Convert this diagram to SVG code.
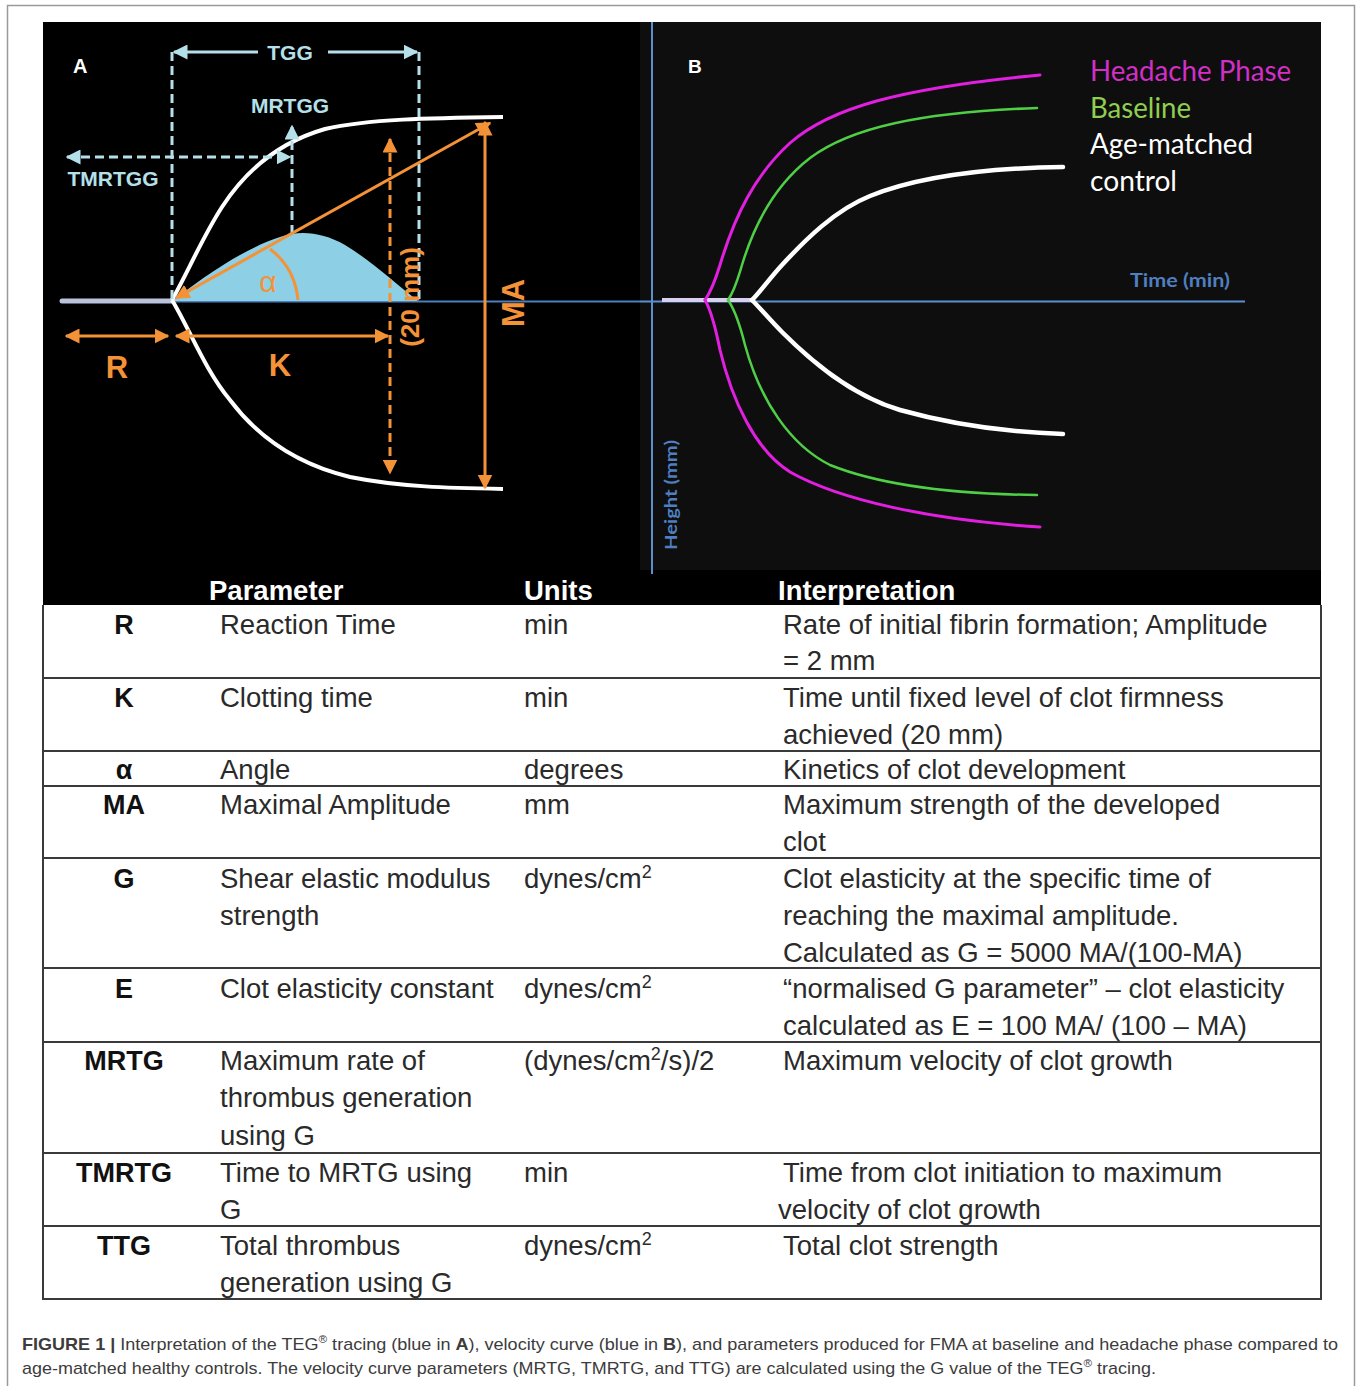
<svg xmlns="http://www.w3.org/2000/svg" width="1358" height="1386" viewBox="0 0 1358 1386">
<defs>
<style>
.or{stroke:#f39237;fill:none;stroke-width:3}
.cy{stroke:#b5e0ea;fill:none;stroke-width:3}
.dash{stroke-dasharray:9,5}
.lblA{font-family:"Liberation Sans",Arial,sans-serif;font-weight:bold;fill:#b5e0ea;font-size:21px}
.orT{font-family:"Liberation Sans",Arial,sans-serif;font-weight:bold;fill:#f39237}
.td{font-family:"Liberation Sans",Arial,sans-serif;font-size:27.5px;fill:#2a2a2a}
.ts{font-family:"Liberation Sans",Arial,sans-serif;font-size:27px;font-weight:bold;fill:#111;text-anchor:middle}
.th{font-family:"Liberation Sans",Arial,sans-serif;font-size:27.5px;font-weight:bold;fill:#fff}
.rl{stroke:#3a3a3a;stroke-width:2;fill:none}
.cap{font-family:"Liberation Sans",Arial,sans-serif;font-size:17px;fill:#3c3c3c}
.leg{font-family:Lato,"Open Sans",sans-serif;font-size:28px}
.sup{font-size:18px}
</style>
<marker id="ao" viewBox="0 0 10 10" refX="9" refY="5" markerWidth="5" markerHeight="5" orient="auto-start-reverse" markerUnits="strokeWidth">
<path d="M0,0 L10,5 L0,10 Z" fill="#f39237"/>
</marker>
<marker id="ac" viewBox="0 0 10 10" refX="9" refY="5" markerWidth="5" markerHeight="5" orient="auto-start-reverse" markerUnits="strokeWidth">
<path d="M0,0 L10,5 L0,10 Z" fill="#b5e0ea"/>
</marker>
</defs>
<rect width="1358" height="1386" fill="#fff"/>
<path d="M7.5,1386 V5.5 H1354.5 V1386" fill="none" stroke="#9a9a9a" stroke-width="1.5"/>

<g id="panelA">
<rect x="43" y="22" width="597" height="560" fill="#000"/>
<text x="73" y="73" font-family="Liberation Sans,Arial,sans-serif" font-weight="bold" font-size="20" fill="#fff">A</text>
<line x1="62" y1="301" x2="172" y2="301" stroke="#b9c3dc" stroke-width="5" stroke-linecap="round"/>
<line x1="172" y1="301.5" x2="640" y2="301.5" stroke="#4a7fc0" stroke-width="2"/>
<path d="M172,301 C200,280 240,250 280,237 C300,230 322,232 345,245 C370,260 395,283 418,301 Z" fill="#8dd0e6"/>
<path d="M172,300 C188,272 202,238 222,207 C246,170 280,142 325,129 C368,119 430,118 503,117" fill="none" stroke="#fff" stroke-width="4"/>
<path d="M172,300 C190,330 205,370 230,400 C260,440 300,465 350,477 C400,487 450,488 503,489" fill="none" stroke="#fff" stroke-width="4"/>
<g id="tealMarks">
<line class="cy dash" x1="172" y1="52" x2="172" y2="300"/>
<line class="cy dash" x1="419" y1="52" x2="419" y2="300"/>
<line class="cy" x1="258" y1="52" x2="174" y2="52" marker-end="url(#ac)"/>
<line class="cy" x1="328" y1="52" x2="417" y2="52" marker-end="url(#ac)"/>
<line class="cy dash" x1="292" y1="234" x2="292" y2="126" marker-end="url(#ac)"/>
<line class="cy dash" x1="67" y1="157" x2="290" y2="157" marker-start="url(#ac)" marker-end="url(#ac)"/>
<text class="lblA" x="290" y="60" text-anchor="middle">TGG</text>
<text class="lblA" x="290" y="113" text-anchor="middle">MRTGG</text>
<text class="lblA" x="113" y="186" text-anchor="middle">TMRTGG</text>
</g>
<g id="orangeMarks">
<line class="or" x1="176" y1="298" x2="490" y2="123" marker-start="url(#ao)" marker-end="url(#ao)"/>
<path class="or" d="M270,249 Q295,268 298,300"/>
<text x="268" y="292" text-anchor="middle" font-family="Liberation Sans,Arial,sans-serif" font-size="30" fill="#f39237">α</text>
<line class="or" x1="66" y1="336" x2="168" y2="336" marker-start="url(#ao)" marker-end="url(#ao)"/>
<line class="or" x1="176" y1="336" x2="388" y2="336" marker-start="url(#ao)" marker-end="url(#ao)"/>
<line class="or dash" x1="390" y1="139" x2="390" y2="473" marker-start="url(#ao)" marker-end="url(#ao)"/>
<line class="or" x1="485" y1="122" x2="485" y2="488" marker-start="url(#ao)" marker-end="url(#ao)"/>
<text class="orT" x="117" y="378" text-anchor="middle" font-size="31">R</text>
<text class="orT" x="280" y="376" text-anchor="middle" font-size="31">K</text>
<text class="orT" transform="translate(419,297) rotate(-90)" text-anchor="middle" font-size="26">(20 mm)</text>
<text class="orT" transform="translate(524,303) rotate(-90)" text-anchor="middle" font-size="31">MA</text>
</g>
</g>

<g id="panelB">
<rect x="640" y="22" width="681" height="560" fill="#0e0e0e"/>
<line x1="652" y1="22" x2="652" y2="572" stroke="#5b8fd0" stroke-width="2"/>
<line x1="640" y1="301.5" x2="1245" y2="301.5" stroke="#5b8fd0" stroke-width="2"/>
<line x1="662" y1="300" x2="752" y2="300" stroke="#d9d0f0" stroke-width="4"/>
<text x="688" y="73" font-family="Liberation Sans,Arial,sans-serif" font-weight="bold" font-size="19" fill="#fff">B</text>
<text class="leg" x="1090" y="81" fill="#d12fc6" textLength="201" lengthAdjust="spacingAndGlyphs">Headache Phase</text>
<text class="leg" x="1090" y="118" fill="#8fcf50" textLength="101" lengthAdjust="spacingAndGlyphs">Baseline</text>
<text class="leg" x="1090" y="154" fill="#fff" textLength="163" lengthAdjust="spacingAndGlyphs">Age-matched</text>
<text class="leg" x="1090" y="191" fill="#fff" textLength="87" lengthAdjust="spacingAndGlyphs">control</text>
<text x="1130" y="287" font-family="Lato,'Open Sans',sans-serif" font-weight="bold" font-size="19" fill="#4f7fc0" textLength="100" lengthAdjust="spacingAndGlyphs">Time (min)</text>
<text transform="translate(677,550) rotate(-90)" font-family="Lato,'Open Sans',sans-serif" font-weight="bold" font-size="17" fill="#4f7fc0" textLength="110" lengthAdjust="spacingAndGlyphs">Height (mm)</text>
<g fill="none" stroke-linecap="round">
<path d="M705,300 C712,290 716,278 720,265 C735,215 755,175 790,143 C830,108 900,88 1040,75" stroke="#e21fe0" stroke-width="3"/>
<path d="M728,300 C735,290 738,278 742,265 C755,222 775,185 810,158 C850,128 920,112 1037,108" stroke="#4fcf45" stroke-width="2.5"/>
<path d="M752,300 C760,292 770,278 782,265 C805,240 835,210 870,196 C920,176 990,168 1063,167" stroke="#fff" stroke-width="4.5"/>
<path d="M752,300 C760,308 770,320 782,332 C810,360 850,395 900,410 C950,424 1000,432 1063,434" stroke="#fff" stroke-width="4.5"/>
<path d="M728,300 C735,310 740,325 745,345 C760,400 790,445 830,465 C880,485 950,494 1037,495" stroke="#4fcf45" stroke-width="2.5"/>
<path d="M705,300 C712,312 716,330 720,350 C732,400 755,450 790,472 C840,500 930,520 1040,527" stroke="#e21fe0" stroke-width="3"/>
</g>
</g>

<g id="table">
<rect x="43" y="570" width="1278" height="35" fill="#000"/>
<line x1="652" y1="570" x2="652" y2="574" stroke="#5b8fd0" stroke-width="2"/>
<text class="th" x="209" y="600">Parameter</text>
<text class="th" x="524" y="600">Units</text>
<text class="th" x="778" y="600">Interpretation</text>
<path class="rl" d="M43,605 V1299 H1321 V605"/>
<path class="rl" d="M43,678 H1321 M43,751 H1321 M43,786 H1321 M43,858 H1321 M43,968 H1321 M43,1042 H1321 M43,1153 H1321 M43,1226 H1321"/>

<g id="row-R">
<text class="ts" x="124" y="634">R</text>
<text class="td" x="220" y="634">Reaction Time</text>
<text class="td" x="524" y="634">min</text>
<text class="td" x="783" y="634">Rate of initial fibrin formation; Amplitude</text>
<text class="td" x="783" y="670">= 2 mm</text>
</g>
<g id="row-K">
<text class="ts" x="124" y="707">K</text>
<text class="td" x="220" y="707">Clotting time</text>
<text class="td" x="524" y="707">min</text>
<text class="td" x="783" y="707">Time until fixed level of clot firmness</text>
<text class="td" x="783" y="744">achieved (20 mm)</text>
</g>
<g id="row-alpha">
<text class="ts" x="124" y="779">α</text>
<text class="td" x="220" y="779">Angle</text>
<text class="td" x="524" y="779">degrees</text>
<text class="td" x="783" y="779">Kinetics of clot development</text>
</g>
<g id="row-MA">
<text class="ts" x="124" y="814">MA</text>
<text class="td" x="220" y="814">Maximal Amplitude</text>
<text class="td" x="524" y="814">mm</text>
<text class="td" x="783" y="814">Maximum strength of the developed</text>
<text class="td" x="783" y="851">clot</text>
</g>
<g id="row-G">
<text class="ts" x="124" y="888">G</text>
<text class="td" x="220" y="888">Shear elastic modulus</text>
<text class="td" x="220" y="925">strength</text>
<text class="td" x="524" y="888">dynes/cm<tspan class="sup" dy="-10">2</tspan></text>
<text class="td" x="783" y="888">Clot elasticity at the specific time of</text>
<text class="td" x="783" y="925">reaching the maximal amplitude.</text>
<text class="td" x="783" y="962">Calculated as G = 5000 MA/(100-MA)</text>
</g>
<g id="row-E">
<text class="ts" x="124" y="998">E</text>
<text class="td" x="220" y="998">Clot elasticity constant</text>
<text class="td" x="524" y="998">dynes/cm<tspan class="sup" dy="-10">2</tspan></text>
<text class="td" x="783" y="998">“normalised G parameter” – clot elasticity</text>
<text class="td" x="783" y="1035">calculated as E = 100 MA/ (100 – MA)</text>
</g>
<g id="row-MRTG">
<text class="ts" x="124" y="1070">MRTG</text>
<text class="td" x="220" y="1070">Maximum rate of</text>
<text class="td" x="220" y="1107">thrombus generation</text>
<text class="td" x="220" y="1145">using G</text>
<text class="td" x="524" y="1070">(dynes/cm<tspan class="sup" dy="-10">2</tspan><tspan dy="10">/s)/2</tspan></text>
<text class="td" x="783" y="1070">Maximum velocity of clot growth</text>
</g>
<g id="row-TMRTG">
<text class="ts" x="124" y="1182">TMRTG</text>
<text class="td" x="220" y="1182">Time to MRTG using</text>
<text class="td" x="220" y="1219">G</text>
<text class="td" x="524" y="1182">min</text>
<text class="td" x="783" y="1182">Time from clot initiation to maximum</text>
<text class="td" x="778" y="1219">velocity of clot growth</text>
</g>
<g id="row-TTG">
<text class="ts" x="124" y="1255">TTG</text>
<text class="td" x="220" y="1255">Total thrombus</text>
<text class="td" x="220" y="1292">generation using G</text>
<text class="td" x="524" y="1255">dynes/cm<tspan class="sup" dy="-10">2</tspan></text>
<text class="td" x="783" y="1255">Total clot strength</text>
</g>
</g>

<g id="caption">
<text class="cap" x="22" y="1350" textLength="1316" lengthAdjust="spacingAndGlyphs"><tspan font-weight="bold">FIGURE 1 |</tspan> Interpretation of the TEG<tspan font-size="11" dy="-7">®</tspan><tspan dy="7"> tracing (blue in </tspan><tspan font-weight="bold">A</tspan>), velocity curve (blue in <tspan font-weight="bold">B</tspan>), and parameters produced for FMA at baseline and headache phase compared to</text>
<text class="cap" x="22" y="1374" textLength="1134" lengthAdjust="spacingAndGlyphs">age-matched healthy controls. The velocity curve parameters (MRTG, TMRTG, and TTG) are calculated using the G value of the TEG<tspan font-size="11" dy="-7">®</tspan><tspan dy="7"> tracing.</tspan></text>
</g>
</svg>
